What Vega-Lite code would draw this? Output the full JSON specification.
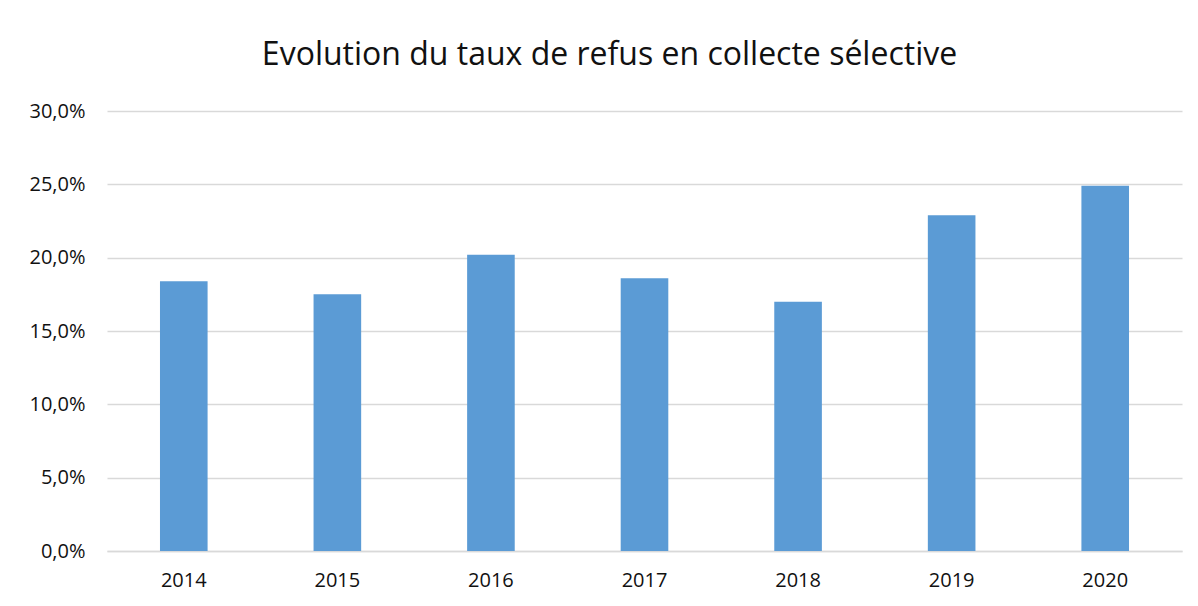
{
  "$schema": "https://vega.github.io/schema/vega-lite/v6.json",
  "width": 1075,
  "height": 440,
  "autosize": {"type": "none"},
  "padding": {"left": 107, "top": 111, "right": 16, "bottom": 55},
  "background": "white",
  "title": {
    "text": "Evolution du taux de refus en collecte sélective",
    "font": "Open Sans",
    "fontSize": 32,
    "fontWeight": "normal",
    "color": "#111111",
    "offset": 29,
    "dx": -35,
    "anchor": "middle"
  },
  "data": {
    "values": [
      {"annee": "2014", "taux": 0.184},
      {"annee": "2015", "taux": 0.175},
      {"annee": "2016", "taux": 0.202},
      {"annee": "2017", "taux": 0.186},
      {"annee": "2018", "taux": 0.170},
      {"annee": "2019", "taux": 0.229},
      {"annee": "2020", "taux": 0.249}
    ]
  },
  "mark": {"type": "bar", "color": "#5B9BD5"},
  "encoding": {
    "x": {
      "field": "annee",
      "type": "ordinal",
      "title": null,
      "scale": {"paddingInner": 0.69, "paddingOuter": 0.345},
      "axis": {
        "labelAngle": 0,
        "labelFont": "Open Sans",
        "labelFontSize": 20,
        "labelColor": "#111111",
        "labelPadding": 19,
        "ticks": false,
        "domain": true,
        "domainColor": "#d9d9d9",
        "domainWidth": 1.5,
        "grid": false
      }
    },
    "y": {
      "field": "taux",
      "type": "quantitative",
      "title": null,
      "scale": {"domain": [0, 0.3]},
      "axis": {
        "values": [0, 0.05, 0.1, 0.15, 0.2, 0.25, 0.3],
        "labelExpr": "replace(format(datum.value, '.1%'), '.', ',')",
        "labelFont": "Open Sans",
        "labelFontSize": 20,
        "labelColor": "#111111",
        "labelPadding": 22,
        "ticks": false,
        "domain": false,
        "grid": true,
        "gridColor": "#d9d9d9",
        "gridWidth": 1.5
      }
    }
  },
  "config": {"view": {"stroke": null}}
}
